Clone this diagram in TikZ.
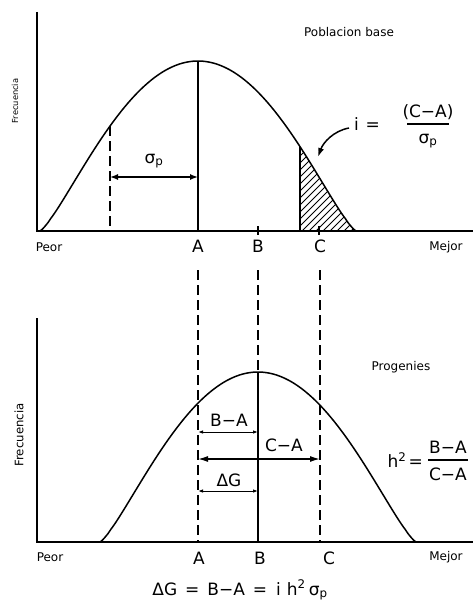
\documentclass[tikz,border=0pt]{standalone}
\usepackage{fontspec}
\setmainfont{DejaVu Sans}
\usetikzlibrary{arrows.meta}
\begin{document}
\begin{tikzpicture}[x=1pt,y=-1pt,
  declare function={bell(\t)=170*(max(0.00001,1-(\t/158)^2))^1.3;},
  big/.style={font=\fontsize{17}{17}\selectfont, inner sep=0pt},
  small/.style={font=\fontsize{12}{12}\selectfont, inner sep=0pt},
  axisline/.style={line width=1.7pt},
  curveline/.style={line width=1.5pt, line join=round},
  guide/.style={line width=1.1pt},
  dashline/.style={line width=1.1pt, dash pattern=on 10pt off 5pt},
  thinarrow/.style={line width=1pt, {Latex[length=5pt,width=3.5pt]}-{Latex[length=5pt,width=3.5pt]}},
  boldarrow/.style={line width=1.4pt, {Latex[length=10pt,width=6pt]}-{Latex[length=10pt,width=6pt]}},
]
\useasboundingbox (0,0) rectangle (473,602);
\fill[white] (0,0) rectangle (473,602);

% ---------------- top plot ----------------
\coordinate (topY) at (37,12);
\coordinate (topO) at (37,231);
\coordinate (topX) at (473,231);
\draw[axisline] (topY) -- (topO) -- (topX);

% hatched tail
\begin{scope}
  \clip (300,231) -- plot[domain=102:158, samples=40] ({198+\x},{231-bell(\x)}) -- cycle;
  \foreach \k in {190,197,...,400} \draw[line width=0.8pt] (\k,231) -- ({\k+110},121);
\end{scope}
\coordinate (cutTop) at (300,{231-bell(102)});
\coordinate (cutBot) at (300,231);
\draw[guide] (cutTop) -- (cutBot);

\draw[curveline] plot[domain=-158:158, samples=121, smooth] ({198+\x},{231-bell(\x)});

\coordinate (peakA) at (198,61);
\coordinate (baseA) at (198,231);
\draw[guide] (peakA) -- (baseA);
\coordinate (sdTop) at (110,{231-bell(-88)});
\coordinate (sdBot) at (110,231);
\draw[dashline] (sdTop) -- (sdBot);

\coordinate (sdL) at (110,177);
\coordinate (sdR) at (198,177);
\draw[line width=1.4pt, {Latex[length=8pt,width=6pt]}-{Latex[length=8pt,width=6pt]}] (sdL) -- (sdR);
\node[big] (sdlab) at (154,161) {σ\textsubscript{p}};

% ticks B, C
\coordinate (tickB1) at (258,226); \coordinate (tickB2) at (258,235);
\coordinate (tickC1) at (319,226); \coordinate (tickC2) at (319,235);
\draw[guide] (tickB1) -- (tickB2);
\draw[guide] (tickC1) -- (tickC2);

\node[small] (pob) at (349,32) {Poblacion base};
\node[font=\fontsize{8.3}{8.3}\selectfont, inner sep=0pt, rotate=90] (freq1) at (15,101) {Frecuencia};
\node[small] (peor1) at (49,247) {Peor};
\node[small] (mejor1) at (446,247) {Mejor};
\node[big] (tA) at (198,246) {A};
\node[big] (tB) at (258,246) {B};
\node[big] (tC) at (320,246) {C};

% selection intensity
\node[big] (ieq) at (367,124) {i\hspace{7pt}=};
\node[big] (inum) at (428,112) {(C−A)};
\node[big] (iden) at (428,141) {σ\textsubscript{p}};
\coordinate (ibarL) at (407,124); \coordinate (ibarR) at (449,124);
\draw[line width=1.1pt] (ibarL) -- (ibarR);
\coordinate (iarrS) at (349,128);
\coordinate (iarrE) at (318,157);
\draw[line width=1.5pt, -{Latex[length=9pt,width=6pt]}] (iarrS) .. controls (333,131) and (323,143) .. (iarrE);

% ---------------- bottom plot ----------------
\coordinate (botY) at (37,318);
\coordinate (botO) at (37,542);
\coordinate (botX) at (473,542);
\draw[axisline] (botY) -- (botO) -- (botX);
\draw[curveline] plot[domain=-158:158, samples=121, smooth] ({258+\x},{542-bell(\x)});

\coordinate (dA1) at (198,270); \coordinate (dA2) at (198,542);
\coordinate (dB1) at (258,270); \coordinate (peakB) at (258,372); \coordinate (dB2) at (258,542);
\coordinate (dC1) at (320,270); \coordinate (dC2) at (320,542);
\draw[dashline] (dA1) -- (dA2);
\draw[dashline] (dB1) -- (peakB);
\draw[guide] (peakB) -- (dB2);
\draw[dashline] (dC1) -- (dC2);

\coordinate (baL) at (198,432); \coordinate (baR) at (258,432);
\draw[thinarrow] (baL) -- (baR);
\node[big] (balab) at (229,420) {B−A};
\coordinate (caL) at (198,459); \coordinate (caR) at (320,459);
\draw[boldarrow] (caL) -- (caR);
\node[big] (calab) at (284,445) {C−A};
\coordinate (dgL) at (198,491); \coordinate (dgR) at (258,491);
\draw[thinarrow] (dgL) -- (dgR);
\node[big] (dglab) at (229,480) {ΔG};

\node[small] (prog) at (401,367) {Progenies};
\node[font=\fontsize{11.7}{11.7}\selectfont, inner sep=0pt, rotate=90] (freq2) at (19,435) {Frecuencia};
\node[small] (peor2) at (50,557) {Peor};
\node[small] (mejor2) at (446,557) {Mejor};
\node[big] (bA) at (199,558) {A};
\node[big] (bB) at (260,558) {B};
\node[big] (bC) at (329,558) {C};

% heritability
\node[big, anchor=east] (h2) at (423,460) {h\textsuperscript{2}\hspace{2pt}=};
\node[big] (hnum) at (448,447) {B−A};
\node[big] (hden) at (448,474) {C−A};
\coordinate (hbarL) at (428,460); \coordinate (hbarR) at (468,460);
\draw[line width=1.1pt] (hbarL) -- (hbarR);

\node[big] (form) at (240,590) {ΔG\hspace{8pt}=\hspace{8pt}B−A\hspace{8pt}=\hspace{9pt}i\hspace{6pt}h\textsuperscript{2}\hspace{3pt}σ\textsubscript{p}};
\end{tikzpicture}
\end{document}
